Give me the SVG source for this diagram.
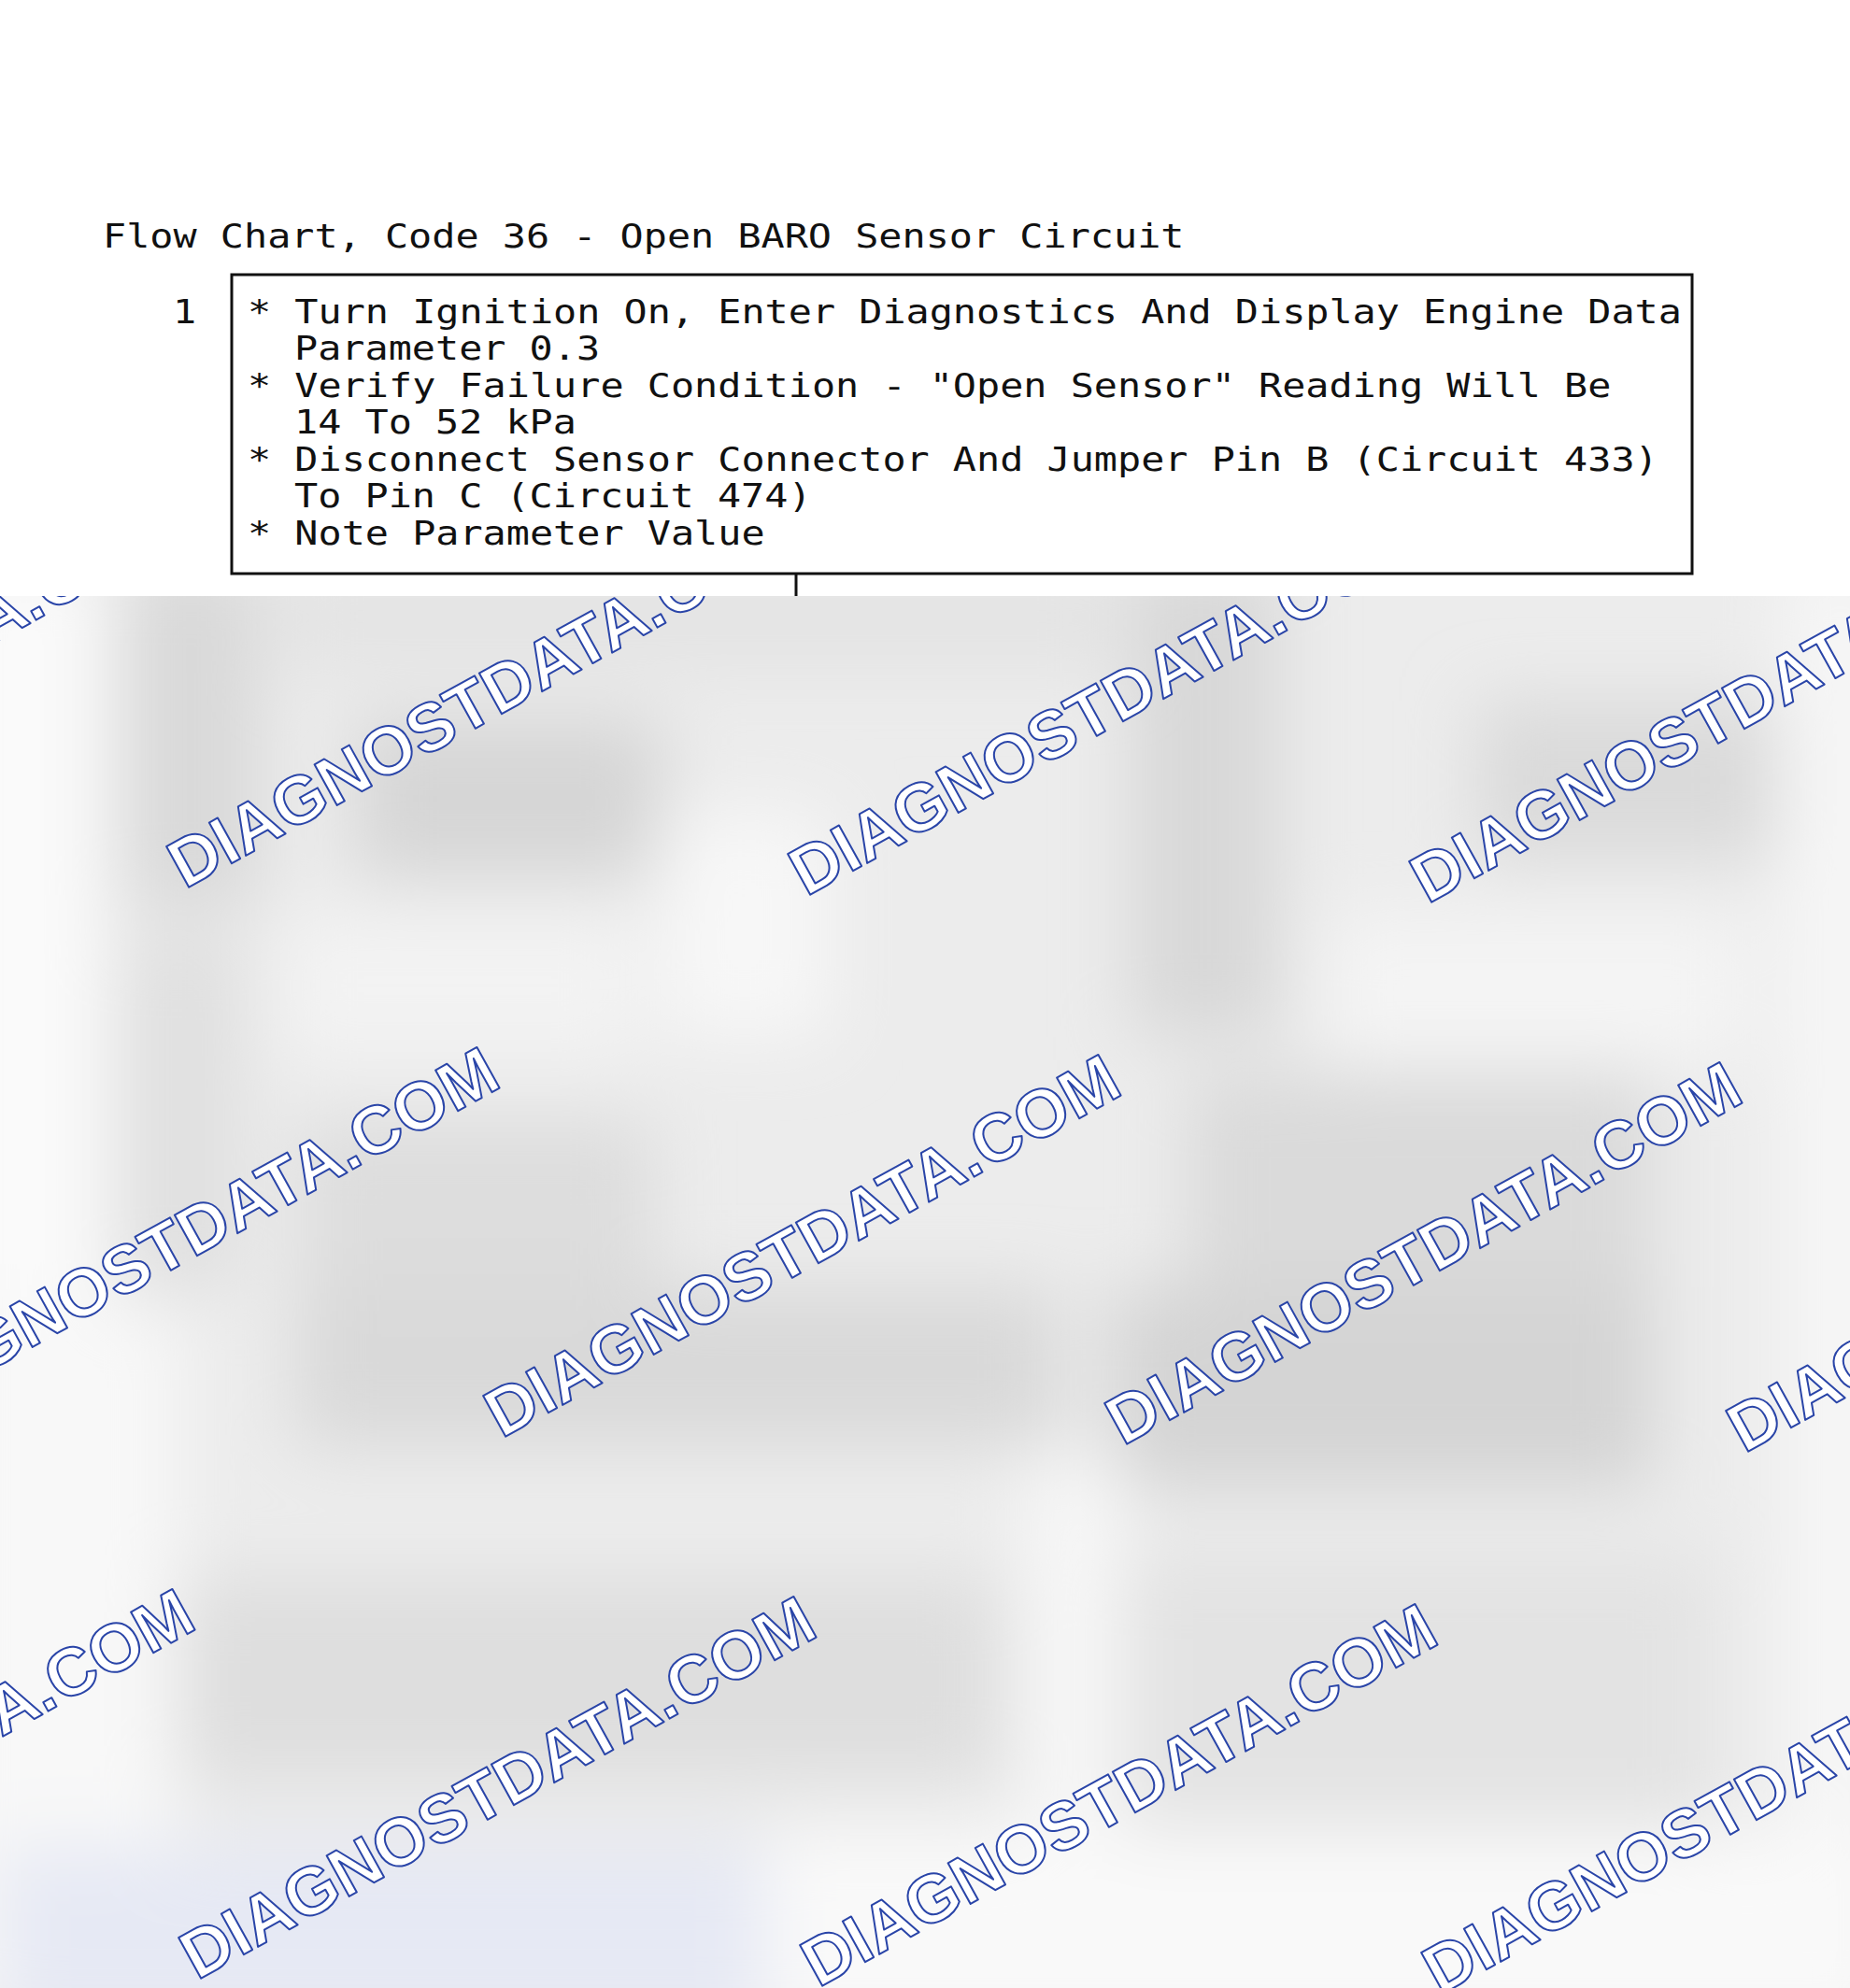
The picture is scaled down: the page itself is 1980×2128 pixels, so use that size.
<svg xmlns="http://www.w3.org/2000/svg" width="1980" height="2128" viewBox="0 0 1980 2128">
<defs>
<style>
.mono{font-family:"DejaVu Sans Mono","Liberation Mono",monospace;font-size:41.8px;fill:#111;}
.wm{font-family:"Liberation Sans",Arial,sans-serif;font-weight:bold;font-size:72.5px;fill:#ffffff;stroke:#2a45a8;stroke-width:2;stroke-linejoin:round;}
.box{fill:#ffffff;stroke:#111;stroke-width:3;}
.conn{stroke:#111;stroke-width:3;fill:none;}
</style>
<clipPath id="lower"><rect x="0" y="638" width="1980" height="1490"/></clipPath>
<filter id="blur" filterUnits="userSpaceOnUse" x="-200" y="400" width="2400" height="1900">
<feGaussianBlur stdDeviation="38"/>
</filter>
</defs>
<rect x="0" y="0" width="1980" height="2128" fill="#ffffff"/>

<g id="background" clip-path="url(#lower)">
<rect x="0" y="638" width="1980" height="1490" fill="#ececec"/>
<g filter="url(#blur)">
<rect x="-60" y="600" width="170" height="1560" fill="#fafafa"/>
<rect x="1910" y="600" width="120" height="1560" fill="#f6f6f6"/>
<rect x="130" y="600" width="150" height="370" fill="#d9d9d9"/>
<rect x="380" y="770" width="330" height="170" fill="#d6d6d6"/>
<rect x="300" y="600" width="900" height="120" fill="#e4e4e4"/>
<rect x="707" y="870" width="180" height="240" fill="#f7f7f7"/>
<rect x="1210" y="600" width="160" height="510" fill="#d8d8d8"/>
<rect x="1580" y="750" width="320" height="170" fill="#dadada"/>
<rect x="1420" y="980" width="450" height="160" fill="#f4f4f4"/>
<rect x="130" y="1000" width="130" height="380" fill="#e0e0e0"/>
<rect x="300" y="980" width="380" height="150" fill="#f3f3f3"/>
<rect x="320" y="1200" width="380" height="180" fill="#dddddd"/>
<rect x="1270" y="1150" width="500" height="230" fill="#dadada"/>
<rect x="316" y="1378" width="820" height="170" fill="#d9d9d9"/>
<rect x="1190" y="1378" width="580" height="215" fill="#d4d4d4"/>
<rect x="-60" y="1400" width="250" height="730" fill="#f8f8f8"/>
<rect x="190" y="1690" width="880" height="215" fill="#dedede"/>
<rect x="1200" y="1665" width="630" height="310" fill="#e3e3e3"/>
<rect x="1100" y="1560" width="100" height="480" fill="#f7f7f7"/>
<rect x="0" y="1976" width="820" height="200" fill="#e6e9f4"/>
<rect x="820" y="1960" width="1200" height="220" fill="#f9f9f9"/>
</g>
</g>

<g id="watermarks" clip-path="url(#lower)">
<text class="wm" transform="translate(-467,944) rotate(-29)">DIAGNOSTDATA.COM</text>
<text class="wm" transform="translate(198,952) rotate(-29)">DIAGNOSTDATA.COM</text>
<text class="wm" transform="translate(863,960) rotate(-29)">DIAGNOSTDATA.COM</text>
<text class="wm" transform="translate(1528,968) rotate(-29)">DIAGNOSTDATA.COM</text>
<text class="wm" transform="translate(-128,1532) rotate(-29)">DIAGNOSTDATA.COM</text>
<text class="wm" transform="translate(537,1540) rotate(-29)">DIAGNOSTDATA.COM</text>
<text class="wm" transform="translate(1202,1548) rotate(-29)">DIAGNOSTDATA.COM</text>
<text class="wm" transform="translate(1867,1556) rotate(-29)">DIAGNOSTDATA.COM</text>
<text class="wm" transform="translate(-454,2112) rotate(-29)">DIAGNOSTDATA.COM</text>
<text class="wm" transform="translate(211,2120) rotate(-29)">DIAGNOSTDATA.COM</text>
<text class="wm" transform="translate(876,2128) rotate(-29)">DIAGNOSTDATA.COM</text>
<text class="wm" transform="translate(1541,2136) rotate(-29)">DIAGNOSTDATA.COM</text>
</g>

<g id="title">
<text class="mono" transform="translate(110,265) scale(1,0.83)">Flow Chart, Code 36 - Open BARO Sensor Circuit</text>
</g>

<g id="connectors">
<line class="conn" x1="852" y1="614" x2="852" y2="638"/>
</g>

<g id="node-1">
<rect class="box" x="248" y="294" width="1563" height="320"/>
<text class="mono" transform="translate(185,346) scale(1,0.83)">1</text>
<text class="mono" transform="translate(265,346) scale(1,0.83)">* Turn Ignition On, Enter Diagnostics And Display Engine Data</text>
<text class="mono" transform="translate(315,385) scale(1,0.83)">Parameter 0.3</text>
<text class="mono" transform="translate(265,425) scale(1,0.83)">* Verify Failure Condition - "Open Sensor" Reading Will Be</text>
<text class="mono" transform="translate(315,464) scale(1,0.83)">14 To 52 kPa</text>
<text class="mono" transform="translate(265,504) scale(1,0.83)">* Disconnect Sensor Connector And Jumper Pin B (Circuit 433)</text>
<text class="mono" transform="translate(315,543) scale(1,0.83)">To Pin C (Circuit 474)</text>
<text class="mono" transform="translate(265,583) scale(1,0.83)">* Note Parameter Value</text>
</g>
</svg>
